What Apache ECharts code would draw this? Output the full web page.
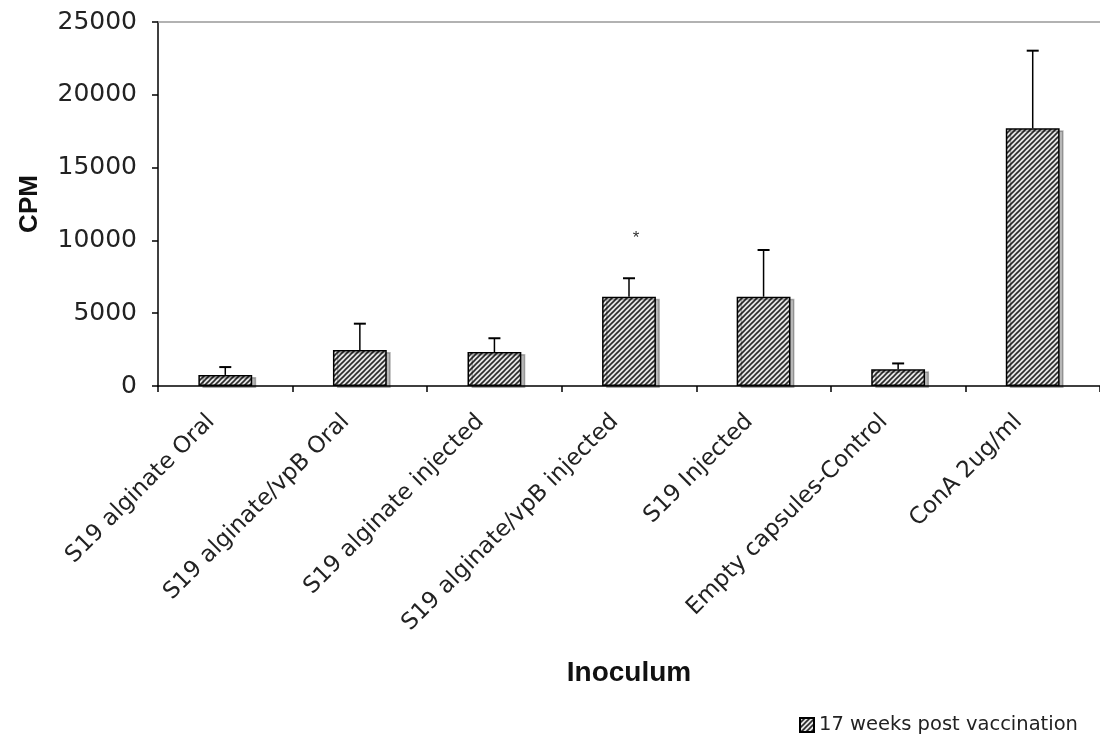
<!DOCTYPE html>
<html>
<head>
<meta charset="utf-8">
<script src="https://cdn.jsdelivr.net/npm/echarts@6/dist/echarts.min.js"></script>
<style>
html,body{margin:0;padding:0;background:#fff;}
#chart{width:1100px;height:744px;}
</style>
</head>
<body>
<div id="chart"></div>
<script>
// ---- data ----
var categories = ['S19 alginate Oral', 'S19 alginate/vpB Oral', 'S19 alginate injected', 'S19 alginate/vpB injected', 'S19 Injected', 'Empty capsules-Control', 'ConA 2ug/ml'];
var cpmValues = [760, 2470, 2330, 6130, 6130, 1150, 17700];
var cpmErrors = [540, 1810, 950, 1270, 3210, 400, 5330];
var significance = ['', '', '', '*', '', '', ''];
var seriesName = '17 weeks post vaccination';

// ---- hatch pattern ----
function makeHatch() {
  var s = 5;
  var c = document.createElement('canvas');
  c.width = s; c.height = s;
  var ctx = c.getContext('2d');
  ctx.fillStyle = '#e6e6e6';
  ctx.fillRect(0, 0, s, s);
  ctx.strokeStyle = '#2a2a2a';
  ctx.lineWidth = 1.6;
  ctx.beginPath();
  ctx.moveTo(0, s); ctx.lineTo(s, 0);
  ctx.moveTo(-1, 1); ctx.lineTo(1, -1);
  ctx.moveTo(s - 1, s + 1); ctx.lineTo(s + 1, s - 1);
  ctx.stroke();
  return c;
}
var hatch = { image: makeHatch(), repeat: 'repeat' };

var chart = echarts.init(document.getElementById('chart'), null, { renderer: 'canvas' });

var errData = categories.map(function (c, i) { return [i, cpmValues[i], cpmValues[i] + cpmErrors[i], significance[i]]; });

var option = {
  backgroundColor: '#ffffff',
  animation: false,
  grid: { left: 158, top: 22, right: -10, bottom: 358, containLabel: false },
  legend: {
    show: true,
    data: [seriesName],
    left: 794, top: 710,
    itemWidth: 14, itemHeight: 14, itemGap: 4,
    icon: 'rect',
    textStyle: { fontFamily: 'DejaVu Sans', fontSize: 19.5, color: '#222' }
  },
  xAxis: [{
    type: 'category',
    data: categories,
    boundaryGap: true,
    name: 'Inoculum',
    nameLocation: 'middle',
    nameGap: 273,
    nameTextStyle: { fontFamily: 'Liberation Sans', fontWeight: 'bold', fontSize: 28, color: '#111' },
    axisLine: { lineStyle: { color: '#000', width: 1.5 } },
    axisTick: { show: true, length: 6, alignWithLabel: false, lineStyle: { color: '#000', width: 1.5 } },
    axisLabel: { interval: 0, rotate: 45, margin: 18, padding: [0, 20, 0, 0], fontFamily: 'DejaVu Sans', fontSize: 23, color: '#222' },
    splitLine: { show: false }
  }, {
    type: 'category',
    position: 'top',
    data: categories,
    axisLine: { lineStyle: { color: '#999', width: 1.5 } },
    axisTick: { show: false },
    axisLabel: { show: false },
    splitLine: { show: false }
  }],
  yAxis: {
    type: 'value',
    min: 0, max: 25000, interval: 5000,
    name: 'CPM',
    nameLocation: 'middle',
    nameGap: 115,
    nameRotate: 90,
    nameTextStyle: { fontFamily: 'Liberation Sans', fontWeight: 'bold', fontSize: 26, color: '#111' },
    axisLine: { show: true, lineStyle: { color: '#000', width: 1.5 } },
    axisTick: { show: true, length: 6, lineStyle: { color: '#000', width: 1.5 } },
    axisLabel: { margin: 21, fontFamily: 'DejaVu Sans', fontSize: 25, color: '#222', formatter: function (v) { return String(v); } },
    splitLine: { show: false }
  },
  series: [{
    name: seriesName,
    type: 'bar',
    data: cpmValues,
    barWidth: '40%',
    itemStyle: {
      color: hatch,
      borderColor: '#000',
      borderWidth: 1.5,
      shadowColor: 'rgba(0,0,0,0.28)',
      shadowBlur: 0,
      shadowOffsetX: 4,
      shadowOffsetY: 2
    },
    z: 2
  }, {
    name: 'err',
    type: 'custom',
    data: errData,
    z: 3,
    renderItem: function (params, api) {
      var i = api.value(0);
      var top = api.coord([i, api.value(2)]);
      var base = api.coord([i, api.value(1)]);
      var cap = 6;
      var children = [
        { type: 'line', shape: { x1: top[0], y1: base[1], x2: top[0], y2: top[1] }, style: { stroke: '#000', lineWidth: 1.5 } },
        { type: 'line', shape: { x1: top[0] - cap, y1: top[1], x2: top[0] + cap, y2: top[1] }, style: { stroke: '#000', lineWidth: 2 } }
      ];
      var mark = errData[params.dataIndex][3];
      if (mark) {
        children.push({ type: 'text', style: { text: mark, x: top[0] + 7, y: top[1] - 40, textAlign: 'center', textVerticalAlign: 'middle', fontSize: 17, fontFamily: 'Liberation Sans', fill: '#333' } });
      }
      return { type: 'group', children: children };
    }
  }]
};
chart.setOption(option);
</script>
</body>
</html>
